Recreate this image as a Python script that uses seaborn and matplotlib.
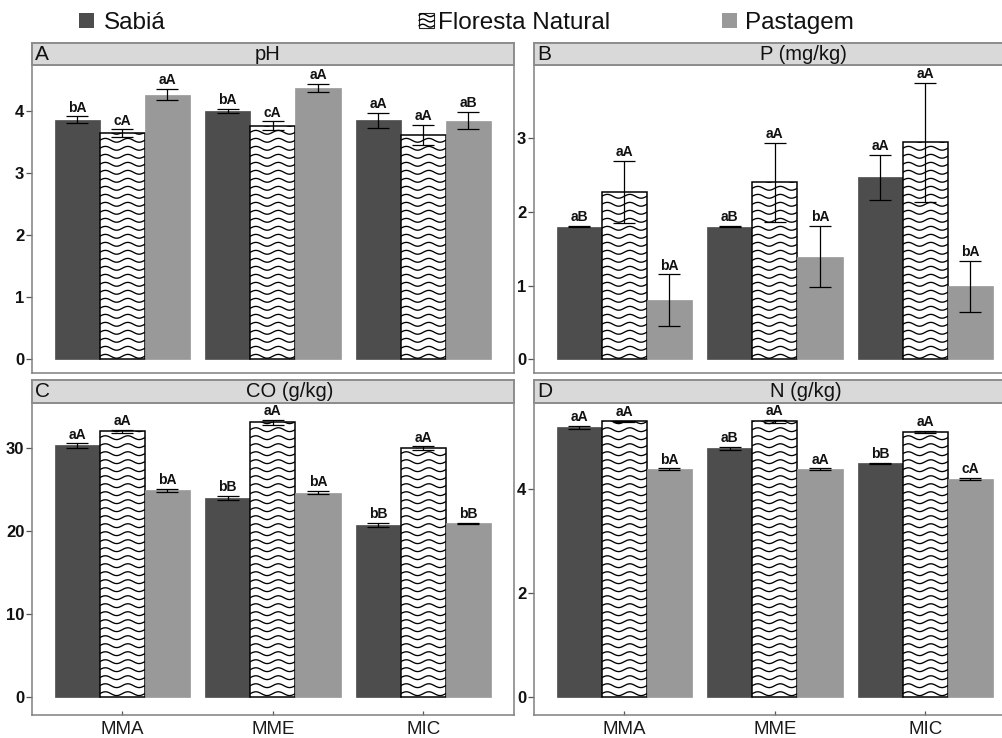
import numpy as np
import pandas as pd
import matplotlib
matplotlib.use('Agg')
import matplotlib.pyplot as plt
import seaborn as sns
from matplotlib.patches import Rectangle, Patch
from matplotlib.lines import Line2D
from matplotlib.transforms import IdentityTransform
from matplotlib.legend_handler import HandlerBase

# ---------------- data ----------------
sistemas = ['MMA', 'MME', 'MIC']
coberturas = ['Sabiá', 'Floresta Natural', 'Pastagem']

ph_sabia = [3.87, 4.01, 3.86]
ph_floresta = [3.65, 3.77, 3.62]
ph_pastagem = [4.27, 4.38, 3.85]
ph_se_sabia = [0.05, 0.03, 0.12]
ph_se_floresta = [0.06, 0.07, 0.16]
ph_se_pastagem = [0.09, 0.07, 0.14]
ph_lab_sabia = ['bA', 'bA', 'aA']
ph_lab_floresta = ['cA', 'cA', 'aA']
ph_lab_pastagem = ['aA', 'aA', 'aB']

p_sabia = [1.80, 1.80, 2.47]
p_floresta = [2.27, 2.40, 2.94]
p_pastagem = [0.80, 1.39, 0.99]
p_se_sabia = [0.005, 0.005, 0.305]
p_se_floresta = [0.42, 0.535, 0.81]
p_se_pastagem = [0.35, 0.415, 0.345]
p_lab_sabia = ['aB', 'aB', 'aA']
p_lab_floresta = ['aA', 'aA', 'aA']
p_lab_pastagem = ['bA', 'bA', 'bA']

co_sabia = [30.3, 24.0, 20.7]
co_floresta = [32.0, 33.1, 30.0]
co_pastagem = [24.9, 24.6, 20.9]
co_se_sabia = [0.28, 0.26, 0.24]
co_se_floresta = [0.20, 0.32, 0.20]
co_se_pastagem = [0.20, 0.20, 0.08]
co_lab_sabia = ['aA', 'bB', 'bB']
co_lab_floresta = ['aA', 'aA', 'aA']
co_lab_pastagem = ['bA', 'bA', 'bB']

n_sabia = [5.20, 4.79, 4.50]
n_floresta = [5.31, 5.31, 5.11]
n_pastagem = [4.39, 4.39, 4.20]
n_se_sabia = [0.03, 0.03, 0.01]
n_se_floresta = [0.015, 0.035, 0.02]
n_se_pastagem = [0.015, 0.015, 0.02]
n_lab_sabia = ['aA', 'aB', 'bB']
n_lab_floresta = ['aA', 'aA', 'aA']
n_lab_pastagem = ['bA', 'aA', 'cA']

panel_letters = ['A', 'B', 'C', 'D']
panel_titles = ['pH', 'P (mg/kg)', 'CO (g/kg)', 'N (g/kg)']
yticks_list = [[0, 1, 2, 3, 4], [0, 1, 2, 3], [0, 10, 20, 30], [0, 2, 4]]

# ---------------- style ----------------
sns.set_style('white')
plt.rcParams['font.family'] = ['Liberation Sans', 'DejaVu Sans']

palette = {'Sabiá': '#4d4d4d', 'Floresta Natural': '#ffffff', 'Pastagem': '#999999'}

W, H = 1002, 738
fig = plt.figure(figsize=(W / 100, H / 100), dpi=100)


def fr(x0, y0, x1, y1):
    return [x0 / W, 1 - y1 / H, (x1 - x0) / W, (y1 - y0) / H]


panels = [
    dict(means=[ph_sabia, ph_floresta, ph_pastagem], se=[ph_se_sabia, ph_se_floresta, ph_se_pastagem],
         labs=[ph_lab_sabia, ph_lab_floresta, ph_lab_pastagem], ylim=(-0.226, 4.75),
         box=(32, 65, 513.6, 373.3), strip=(32, 43, 513.6, 65), tx=268, bottom=False),
    dict(means=[p_sabia, p_floresta, p_pastagem], se=[p_se_sabia, p_se_floresta, p_se_pastagem],
         labs=[p_lab_sabia, p_lab_floresta, p_lab_pastagem], ylim=(-0.19, 3.99),
         box=(534, 65, 1015.6, 373.3), strip=(534, 43, 1015.6, 65), tx=803, bottom=False),
    dict(means=[co_sabia, co_floresta, co_pastagem], se=[co_se_sabia, co_se_floresta, co_se_pastagem],
         labs=[co_lab_sabia, co_lab_floresta, co_lab_pastagem], ylim=(-2.21, 35.39),
         box=(32, 403.3, 513.6, 715), strip=(32, 380, 513.6, 403.3), tx=290, bottom=True),
    dict(means=[n_sabia, n_floresta, n_pastagem], se=[n_se_sabia, n_se_floresta, n_se_pastagem],
         labs=[n_lab_sabia, n_lab_floresta, n_lab_pastagem], ylim=(-0.353, 5.66),
         box=(534, 403.3, 1015.6, 715), strip=(534, 380, 1015.6, 403.3), tx=806, bottom=True),
]

WAVE_LEN = 22.5
WAVE_AMP = 1.9
WAVE_STEP = 8.0

for k, pan in enumerate(panels):
    ax = fig.add_axes(fr(*pan['box']))
    vals = np.concatenate(pan['means'])
    df = pd.DataFrame({'Sistema': sistemas * 3,
                       'Cobertura': np.repeat(coberturas, 3),
                       'valor': vals})
    sns.barplot(data=df, x='Sistema', y='valor', hue='Cobertura', order=sistemas,
                hue_order=coberturas, palette=palette, width=0.9, gap=0, errorbar=None,
                legend=False, saturation=1, ax=ax)
    ax.set_xlim(-0.6, 2.6)
    ax.set_ylim(*pan['ylim'])
    ax.set_yticks(yticks_list[k])
    ax.set_xlabel('')
    ax.set_ylabel('')

    bar_conts = list(ax.containers)
    for ci, cont in enumerate(bar_conts):
        xs = []
        for bar in cont.patches:
            xs.append(bar.get_x() + bar.get_width() / 2)
            if coberturas[ci] == 'Floresta Natural':
                bar.set_edgecolor('black')
                bar.set_linewidth(1.1)
            else:
                bar.set_edgecolor(palette[coberturas[ci]])
                bar.set_linewidth(0.5)
        m = pan['means'][ci]
        s = pan['se'][ci]
        ax.errorbar(xs, m, yerr=s, fmt='none', ecolor='black', elinewidth=0.9,
                    capsize=8, capthick=0.9, zorder=5)
        for j, x in enumerate(xs):
            ax.annotate(pan['labs'][ci][j], (x, m[j] + s[j]), xytext=(0, 1.2),
                        textcoords='offset points', ha='center', va='bottom',
                        fontsize=10, fontweight='bold', color='#111111', zorder=6)

    # wavy hatch on the Floresta Natural bars
    hatched = bar_conts[coberturas.index('Floresta Natural')]
    for bar in hatched.patches:
        bb = bar.get_window_extent()
        xw = np.arange(bb.x0 - 1, bb.x1 + 1.5, 0.5)
        yl = bb.y0 + 3
        while yl < bb.y1 + WAVE_STEP:
            yw = yl + WAVE_AMP * np.sin(2 * np.pi * (xw - bb.x0) / WAVE_LEN)
            ln = Line2D(xw, yw, color='black', lw=0.95, transform=IdentityTransform(), zorder=2)
            ax.add_line(ln)
            ln.set_clip_path(bar)
            yl += WAVE_STEP

    for sp in ax.spines.values():
        sp.set_color('#808080')
        sp.set_linewidth(1.1)
    ax.tick_params(axis='y', length=4, width=0.9, color='#555555', pad=1.5,
                   labelsize=12, labelcolor='#111111', left=True)
    for t in ax.get_yticklabels():
        t.set_fontweight('bold')
    if pan['bottom']:
        ax.tick_params(axis='x', direction='in', length=3, width=0.9, color='#555555',
                       pad=4, labelsize=13.5, labelcolor='#1a1a1a', bottom=True)
    else:
        ax.tick_params(axis='x', length=0, labelbottom=False)

    # strip
    sx0, sy0, sx1, sy1 = pan['strip']
    sax = fig.add_axes(fr(sx0, sy0, sx1, sy1))
    sax.set_facecolor('#d9d9d9')
    sax.set_xticks([])
    sax.set_yticks([])
    for sp in sax.spines.values():
        sp.set_color('#8c8c8c')
        sp.set_linewidth(1.4)
    yc = 1 - ((sy0 + sy1) / 2) / H
    fig.text((sx0 + 3) / W, yc, panel_letters[k], ha='left', va='center', fontsize=15, color='#111111')
    fig.text(pan['tx'] / W, yc, panel_titles[k], ha='center', va='center', fontsize=14.5, color='#111111')


# ---------------- legend ----------------
class WaveHandler(HandlerBase):
    def create_artists(self, legend, orig_handle, xdescent, ydescent, width, height, fontsize, trans):
        x0, y0 = -xdescent, -ydescent
        arts = [Rectangle((x0, y0), width, height, facecolor='white', edgecolor='#222222',
                          lw=0.8, transform=trans)]
        xs = np.linspace(x0, x0 + width, 40)
        for i in range(3):
            yb = y0 + height * (i + 0.5) / 3
            ys = yb + height * 0.09 * np.sin(2 * np.pi * (xs - x0) / width)
            arts.append(Line2D(xs, ys, color='black', lw=1.0, transform=trans))
        return arts


fs = 17.5
fs_px = fs * 100 / 72
hl = 15 / fs_px
leg_items = [
    ('Sabiá', Patch(facecolor=palette['Sabiá'], edgecolor='none'), 79, 10),
    ('Floresta Natural', Patch(facecolor='white', edgecolor='black'), 419, 4),
    ('Pastagem', Patch(facecolor=palette['Pastagem'], edgecolor='none'), 722, 8),
]
for name, handle, xpos, pad in leg_items:
    hm = {handle: WaveHandler()} if name == 'Floresta Natural' else None
    leg = fig.legend(handles=[handle], labels=[name], loc='center left',
                     bbox_to_anchor=(xpos / W, 1 - 23 / H), frameon=False, fontsize=fs,
                     handlelength=hl, handleheight=hl, handletextpad=pad / fs_px,
                     borderpad=0, borderaxespad=0, handler_map=hm)
    for t in leg.get_texts():
        t.set_color('#111111')

fig.savefig('out.png', dpi=100)
